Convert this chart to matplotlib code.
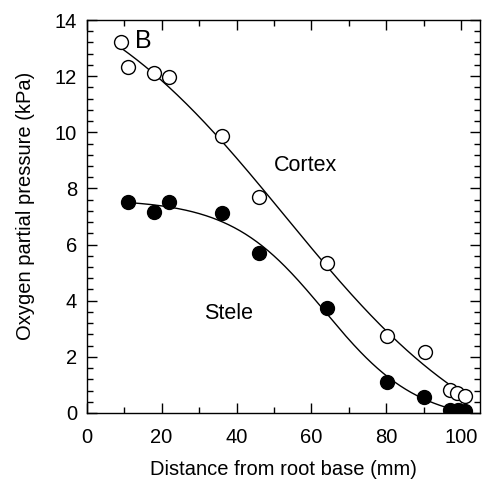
import numpy as np
import matplotlib.pyplot as plt
from matplotlib.ticker import MultipleLocator

plt.rcParams['font.family'] = ['Liberation Sans', 'DejaVu Sans']

# Distance from root base (mm) and O2 partial pressure (kPa)
cortex_x = [9.1, 11.1, 18.0, 22.0, 36.1, 46.0, 64.1, 80.3, 90.2, 97.1, 98.8, 101.1]
cortex_y = [13.23, 12.31, 12.12, 11.96, 9.87, 7.70, 5.34, 2.75, 2.16, 0.82, 0.70, 0.61]
stele_x = [11.1, 18.0, 22.0, 36.0, 46.0, 64.2, 80.3, 90.0, 97.1, 99.0, 101.1]
stele_y = [7.53, 7.17, 7.50, 7.11, 5.69, 3.73, 1.09, 0.58, 0.11, 0.10, 0.08]


def boltzmann_fit(x, y):
    # y = A2 + (A1 - A2) / (1 + exp((x - x0) / dx)); grid over x0, dx, linear solve for the rest
    x = np.asarray(x)
    y = np.asarray(y)
    best = None
    for x0 in np.linspace(20, 90, 141):
        for dx in np.linspace(4, 40, 145):
            s = 1.0 / (1.0 + np.exp((x - x0) / dx))
            A = np.column_stack([np.ones_like(x), s])
            coef, *_ = np.linalg.lstsq(A, y, rcond=None)
            err = np.sum((A @ coef - y) ** 2)
            if best is None or err < best[0]:
                best = (err, x0, dx, coef)
    _, x0, dx, coef = best
    return lambda t: coef[0] + coef[1] / (1.0 + np.exp((t - x0) / dx))


fig, ax = plt.subplots(figsize=(4.87, 4.8), dpi=100)
fig.subplots_adjust(left=0.178, right=0.9856, bottom=0.1396, top=0.9583)

for xs, ys, face in [(cortex_x, cortex_y, 'white'), (stele_x, stele_y, 'black')]:
    f = boltzmann_fit(xs, ys)
    t = np.linspace(min(xs), max(xs), 300)
    ax.plot(t, f(t), color='black', lw=1.0, zorder=2)
    ax.plot(xs, ys, 'o', ms=10, mfc=face, mec='black', mew=1.0, zorder=3)

ax.text(58.5, 8.83, 'Cortex', fontsize=15.5, ha='center', va='center')
ax.text(37.8, 3.53, 'Stele', fontsize=15.5, ha='center', va='center')
ax.text(15.0, 13.26, 'B', fontsize=18, ha='center', va='center')

ax.set_xlim(0, 105)
ax.set_ylim(0, 14)
ax.xaxis.set_major_locator(MultipleLocator(20))
ax.xaxis.set_minor_locator(MultipleLocator(10))
ax.yaxis.set_major_locator(MultipleLocator(2))
ax.yaxis.set_minor_locator(MultipleLocator(0.4))
ax.tick_params(which='both', direction='in', top=True, right=True, width=1.0, labelsize=14.5)
ax.tick_params(which='major', length=7)
ax.tick_params(which='minor', length=4)
ax.tick_params(axis='y', which='major', pad=7)
ax.tick_params(axis='x', which='major', pad=10.5)
for sp in ax.spines.values():
    sp.set_linewidth(1.0)

ax.set_xlabel('Distance from root base (mm)', fontsize=14.5, labelpad=10)
ax.set_ylabel('Oxygen partial pressure (kPa)', fontsize=14.5)
ax.yaxis.set_label_coords(-0.132, 0.527)

fig.savefig('out.png', dpi=100)
